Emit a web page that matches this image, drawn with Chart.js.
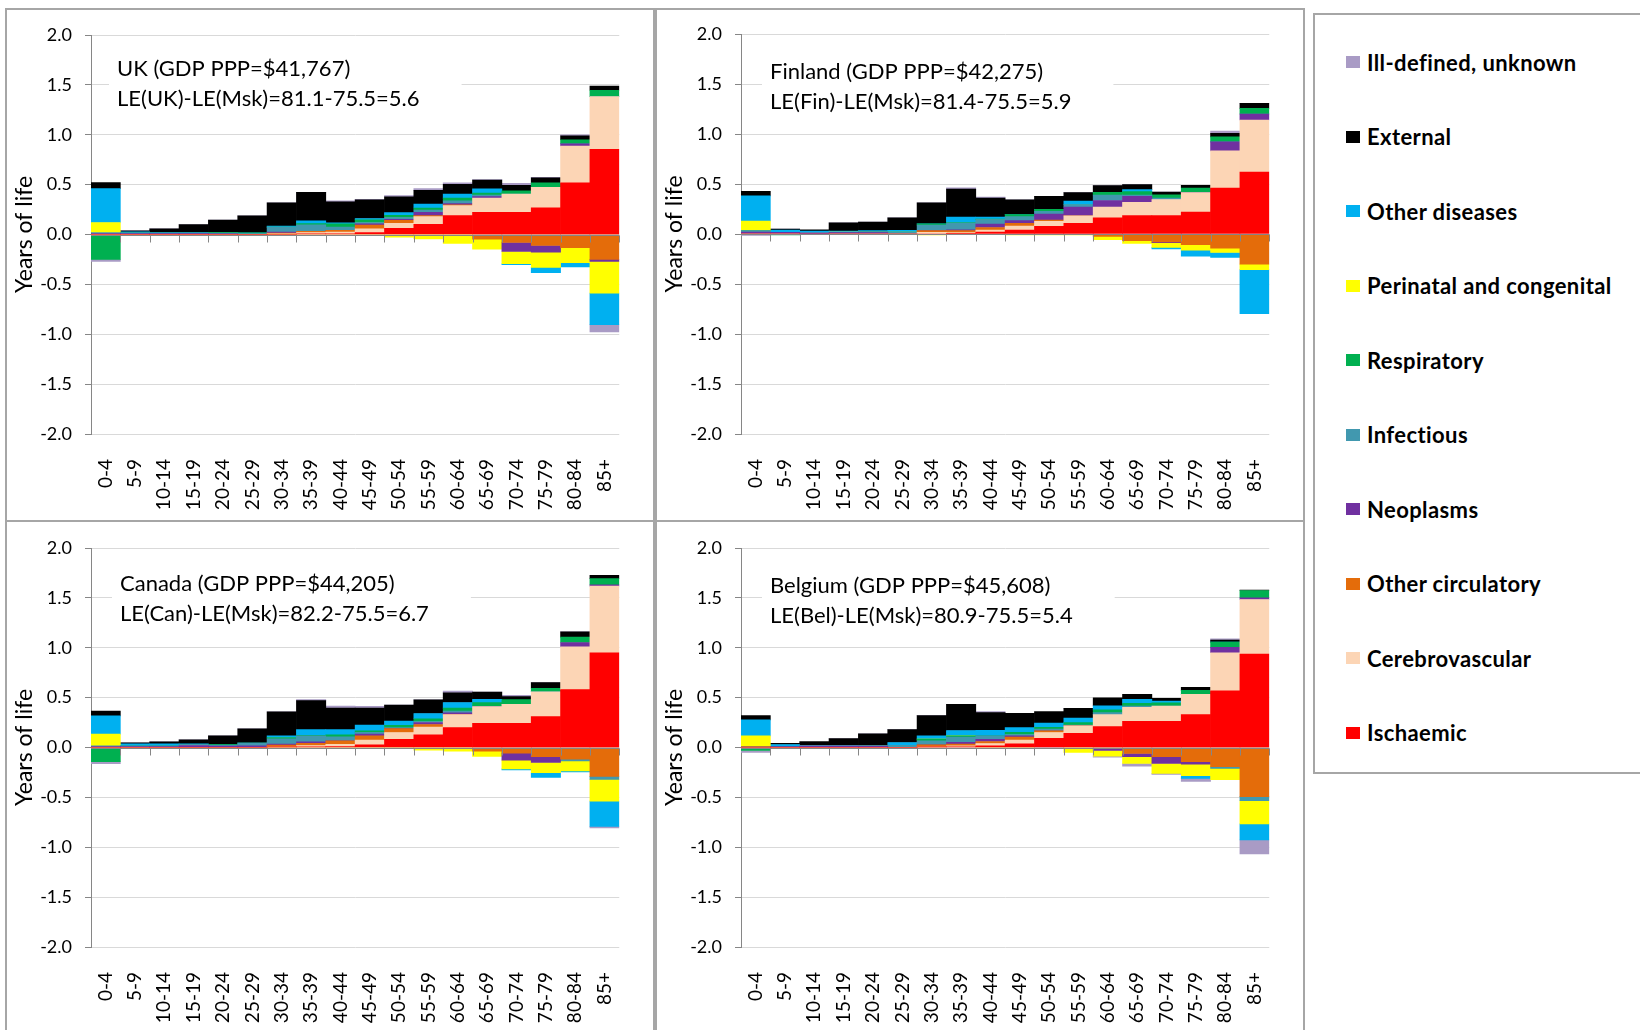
<!DOCTYPE html>
<html>
<head>
<meta charset="utf-8">
<script src="https://cdn.jsdelivr.net/npm/chart.js@4.4.1/dist/chart.umd.min.js"></script>
<style>
  body { margin: 0; width: 1640px; height: 1030px; background: #fff; position: relative; overflow: hidden; }
  .panel { position: absolute; box-sizing: border-box; border: 2px solid #a6a6a6; background: #fff; }
  .panel canvas { position: absolute; left: 0; top: 0; }
  #legend { position: absolute; left: 1313px; top: 13px; width: 340px; height: 761px; box-sizing: border-box; border: 2px solid #a6a6a6; background: #fff; }
  .item { position: absolute; left: 31px; height: 24px; display: flex; align-items: center; font: bold 22px Lato, sans-serif; letter-spacing: 0.4px; color: #000; white-space: nowrap; }
  .item span { display: inline-block; width: 14px; height: 12px; margin-right: 7px; }
</style>
</head>
<body>
<div class="panel" style="left:5px;top:8px;width:650px;height:514px"><canvas id="uk" width="646" height="510"></canvas></div>
<div class="panel" style="left:655px;top:8px;width:650px;height:514px"><canvas id="fin" width="646" height="510"></canvas></div>
<div class="panel" style="left:5px;top:520px;width:650px;height:515px"><canvas id="can" width="646" height="511"></canvas></div>
<div class="panel" style="left:655px;top:520px;width:650px;height:515px"><canvas id="bel" width="646" height="511"></canvas></div>
<div id="legend"></div>
<script>
const ages = ['0-4', '5-9', '10-14', '15-19', '20-24', '25-29', '30-34', '35-39', '40-44',
  '45-49', '50-54', '55-59', '60-64', '65-69', '70-74', '75-79', '80-84', '85+'];

// stacking order, bottom up
const causes = ['Ischaemic', 'Cerebrovascular', 'Other circulatory', 'Neoplasms', 'Infectious',
  'Respiratory', 'Perinatal and congenital', 'Other diseases', 'External', 'Ill-defined, unknown'];
const causeColors = ['#ff0000', '#fcd5b5', '#e46c0a', '#7030a0', '#4198af',
  '#00b050', '#ffff00', '#00b0f0', '#000000', '#a99bc5'];

const yTicks = [-2, -1.5, -1, -0.5, 0, 0.5, 1, 1.5, 2];

// rows follow `causes`
const ukValues = [
  [0, 0, 0, 0, 0, 0, 0, 0.007, 0.007, 0.02, 0.063, 0.103, 0.19, 0.223, 0.223, 0.267, 0.517, 0.853],
  [0, 0, 0, 0, 0, 0, 0.007, 0.013, 0.017, 0.037, 0.05, 0.077, 0.1, 0.143, 0.183, 0.207, 0.37, 0.53],
  [0, 0, 0, 0, 0, 0, 0.007, 0.013, 0.017, 0.037, 0.03, 0.01, 0.007, -0.047, -0.08, -0.11, -0.133, -0.25],
  [0.01, 0.01, 0.01, 0.01, 0.007, 0, 0.01, 0, 0, 0.013, 0.01, 0.033, 0.013, 0.013, -0.09, -0.067, 0.023, -0.02],
  [0.01, 0.007, 0.005, 0.005, 0.007, 0.01, 0.05, 0.063, 0.033, 0.013, 0.017, 0.023, 0.027, 0.017, 0, 0, 0, 0],
  [-0.25, 0, 0, 0, 0.007, 0.007, 0, 0.013, 0.033, 0.027, 0.023, 0.02, 0.027, 0.02, 0.033, 0.043, 0.04, 0.063],
  [0.1, -0.007, -0.008, -0.008, -0.008, -0.008, -0.008, -0.008, -0.008, -0.01, -0.027, -0.045, -0.09, -0.1, -0.123, -0.153, -0.15, -0.317],
  [0.34, 0.01, 0.005, 0.005, 0, 0, 0.01, 0.027, 0.01, 0.013, 0.027, 0.04, 0.04, 0.043, -0.01, -0.053, -0.043, -0.317],
  [0.06, 0.01, 0.037, 0.08, 0.123, 0.17, 0.233, 0.287, 0.21, 0.187, 0.157, 0.137, 0.1, 0.087, 0.053, 0.05, 0.04, 0.043],
  [-0.02, 0, 0, 0, 0, 0, 0, 0, 0.01, 0.005, 0.013, 0.017, 0.013, 0.005, 0.02, 0.005, 0.01, -0.073]
];

const finValues = [
  [0, 0, 0, 0, 0, 0, 0, 0.007, 0.02, 0.04, 0.077, 0.107, 0.161, 0.185, 0.185, 0.218, 0.46, 0.62],
  [0, 0, -0.005, 0, 0, 0, 0.017, 0.007, 0.02, 0.04, 0.05, 0.074, 0.107, 0.131, 0.16, 0.195, 0.372, 0.52],
  [0, 0, 0, 0, 0, 0, 0.017, 0.02, 0.025, 0.027, 0.013, 0, -0.023, -0.067, -0.08, -0.107, -0.141, -0.302],
  [0.02, 0.017, 0.01, 0.013, 0.013, 0, 0, 0.007, 0.035, 0.027, 0.06, 0.087, 0.067, 0.06, -0.007, 0, 0.09, 0.06],
  [0.013, 0, 0.005, 0.005, 0.01, 0.02, 0.054, 0.067, 0.045, 0.04, 0.027, 0.027, 0.054, 0.013, 0.013, 0, 0, 0],
  [0, -0.01, 0, -0.007, 0, 0, 0.013, 0.007, 0.005, 0.02, 0.02, 0, 0.027, 0.034, 0.034, 0.047, 0.05, 0.057],
  [0.097, 0, 0, 0, 0, 0, -0.01, -0.005, -0.005, -0.01, -0.01, -0.01, -0.034, -0.027, -0.047, -0.054, -0.044, -0.054],
  [0.252, 0.023, 0.013, 0.01, 0.01, 0.017, 0, 0.054, 0.02, 0, 0, 0.034, 0, 0.02, -0.015, -0.06, -0.05, -0.44],
  [0.044, 0.01, 0.013, 0.084, 0.087, 0.124, 0.211, 0.279, 0.19, 0.148, 0.13, 0.084, 0.067, 0.05, 0.027, 0.027, 0.034, 0.05],
  [-0.015, 0, 0, 0, 0, 0, 0, 0.013, 0.01, 0, 0, 0, 0, 0, 0, 0, 0.023, 0]
];

const canValues = [
  [0, 0, 0, 0, 0, 0, 0.007, 0.007, 0.01, 0.027, 0.083, 0.127, 0.2, 0.243, 0.243, 0.31, 0.58, 0.95],
  [0, 0, 0, 0, 0, 0, 0, 0.013, 0.023, 0.047, 0.067, 0.077, 0.13, 0.167, 0.19, 0.247, 0.43, 0.667],
  [0, 0, 0, 0, 0, 0, 0.017, 0.023, 0.033, 0.043, 0.04, 0.027, 0, -0.037, -0.057, -0.093, -0.117, -0.29],
  [0.01, 0.01, 0.01, 0.02, 0.013, 0.017, 0.01, 0.013, 0, 0.017, 0, 0.02, 0.017, 0, -0.07, -0.057, 0.043, 0.013],
  [0.007, 0.007, 0.007, 0.01, 0.01, 0.027, 0.053, 0.06, 0.04, 0.017, 0.01, 0.01, 0.017, 0, 0, 0, -0.017, -0.03],
  [-0.143, 0, 0, 0, 0.007, 0, 0.013, 0.007, 0.02, 0.017, 0.023, 0.027, 0.03, 0.04, 0.047, 0.037, 0.053, 0.063],
  [0.117, -0.007, -0.005, -0.005, -0.005, -0.005, -0.005, -0.005, -0.005, -0.005, -0.007, -0.027, -0.037, -0.053, -0.087, -0.103, -0.1, -0.217],
  [0.183, 0.02, 0.02, 0.007, 0, 0, 0.017, 0.057, 0.053, 0.057, 0.043, 0.053, 0.057, 0.033, -0.01, -0.047, -0.01, -0.253],
  [0.047, 0.01, 0.02, 0.04, 0.087, 0.143, 0.24, 0.29, 0.217, 0.17, 0.16, 0.137, 0.097, 0.073, 0.03, 0.057, 0.053, 0.033],
  [-0.02, 0, 0, 0, 0, 0, 0, 0.01, 0.02, 0.017, 0, 0, 0.017, 0, 0.013, 0, 0, -0.017]
];

const belValues = [
  [0, 0, 0, 0, 0, 0, 0.007, 0.007, 0.017, 0.037, 0.093, 0.143, 0.21, 0.263, 0.263, 0.33, 0.567, 0.937],
  [0, 0, 0, 0, 0, 0, 0, 0.01, 0.023, 0.037, 0.057, 0.073, 0.12, 0.14, 0.153, 0.203, 0.383, 0.547],
  [0.007, 0, 0, 0, 0, 0, 0.02, 0.017, 0.02, 0.03, 0.017, 0, -0.01, -0.06, -0.093, -0.143, -0.193, -0.493],
  [0, 0.01, 0.013, 0.013, 0.013, 0, 0, 0.017, 0.023, 0.013, 0, 0, -0.02, -0.033, -0.067, -0.023, 0.053, 0.017],
  [0, 0, 0.01, 0.01, 0.005, 0.023, 0.04, 0.053, 0.033, 0.013, 0.017, 0.01, 0.02, 0.013, 0, 0, -0.017, -0.04],
  [-0.03, 0, 0, 0, 0, 0, 0.017, 0.013, 0, 0.023, 0.017, 0.023, 0.027, 0.027, 0.033, 0.04, 0.053, 0.073],
  [0.11, -0.01, 0, 0, 0, 0, 0, 0, -0.01, -0.007, 0, -0.05, -0.057, -0.067, -0.1, -0.117, -0.113, -0.233],
  [0.16, 0.02, 0, 0, 0.005, 0.027, 0.033, 0.053, 0.057, 0.047, 0.043, 0.047, 0.04, 0.04, 0.017, -0.027, 0, -0.16],
  [0.043, 0.013, 0.037, 0.067, 0.113, 0.13, 0.203, 0.263, 0.177, 0.143, 0.117, 0.097, 0.08, 0.05, 0.027, 0.03, 0.02, 0.005],
  [-0.02, 0, -0.005, 0, 0, 0, 0, 0, 0.01, 0, -0.01, 0, -0.01, -0.027, -0.01, -0.03, 0.013, -0.14]
];

// white text box in the upper left plus the zero axis with its tick marks
const panelText = {
  id: 'panelText',
  beforeDatasetsDraw(chart, args, opts) {
    const ctx = chart.ctx;
    ctx.save();
    ctx.font = '22px Lato';
    const w = Math.max(ctx.measureText(opts.lines[0]).width, ctx.measureText(opts.lines[1]).width);
    ctx.fillStyle = '#fff';
    ctx.fillRect(opts.x - 8, opts.y - 22, w + 50, 76);
    ctx.fillStyle = '#000';
    ctx.textBaseline = 'middle';
    ctx.fillText(opts.lines[0], opts.x, opts.y);
    ctx.fillText(opts.lines[1], opts.x, opts.y + 30);
    ctx.restore();
  },
  afterDatasetsDraw(chart) {
    const { ctx, chartArea } = chart;
    const xs = chart.scales.x;
    const y0 = Math.round(chart.scales.y.getPixelForValue(0)) + 0.5;
    const half = (xs.getPixelForValue(1) - xs.getPixelForValue(0)) / 2;
    ctx.save();
    ctx.strokeStyle = '#868686';
    ctx.lineWidth = 1;
    ctx.beginPath();
    ctx.moveTo(chartArea.left, y0);
    ctx.lineTo(chartArea.right, y0);
    for (let i = 0; i < ages.length; i++) {
      const x = Math.round(xs.getPixelForValue(i) + half) + 0.5;
      ctx.moveTo(x, y0);
      ctx.lineTo(x, y0 + 7);
    }
    ctx.stroke();
    ctx.restore();
  }
};

function makeChart(id, values, lines, padTop, textX, textY) {
  new Chart(document.getElementById(id), {
    type: 'bar',
    data: {
      labels: ages,
      datasets: causes.map((c, i) => ({
        label: c,
        data: values[i],
        backgroundColor: causeColors[i],
        borderWidth: 0,
        barPercentage: 1,
        categoryPercentage: 1
      }))
    },
    options: {
      responsive: false,
      animation: false,
      layout: { padding: { top: padTop, right: 22, left: 0, bottom: 0 } },
      plugins: {
        legend: { display: false },
        tooltip: { enabled: false },
        panelText: { lines: lines, x: textX, y: textY }
      },
      scales: {
        x: {
          stacked: true,
          grid: { display: false, drawTicks: false },
          border: { display: false },
          ticks: { autoSkip: false, minRotation: 90, maxRotation: 90, padding: 25, color: '#000', font: { family: 'Lato', size: 19 } },
          afterFit(s) { s.height = 86; }
        },
        y: {
          stacked: true,
          min: yTicks[0],
          max: yTicks[yTicks.length - 1],
          afterBuildTicks(s) { s.ticks = yTicks.map(v => ({ value: v })); },
          ticks: { padding: 13, color: '#000', font: { family: 'Lato', size: 18 }, callback: v => v.toFixed(1) },
          grid: { color: '#d9d9d9', tickColor: '#868686', tickLength: 6 },
          border: { display: true, color: '#868686' },
          title: { display: true, text: 'Years of life', color: '#000', font: { family: 'Lato', size: 23 }, padding: { top: 4, bottom: 0 } },
          afterFit(s) { s.width = 84; }
        }
      }
    },
    plugins: [panelText]
  });
}

makeChart('uk', ukValues, ['UK (GDP PPP=$41,767)', 'LE(UK)-LE(Msk)=81.1-75.5=5.6'], 25, 110, 59);
makeChart('fin', finValues, ['Finland (GDP PPP=$42,275)', 'LE(Fin)-LE(Msk)=81.4-75.5=5.9'], 24, 113, 62);
makeChart('can', canValues, ['Canada (GDP PPP=$44,205)', 'LE(Can)-LE(Msk)=82.2-75.5=6.7'], 26, 113, 62);
makeChart('bel', belValues, ['Belgium (GDP PPP=$45,608)', 'LE(Bel)-LE(Msk)=80.9-75.5=5.4'], 26, 113, 64);

// legend, top entry is the last series
const legend = document.getElementById('legend');
for (let k = 0; k < causes.length; k++) {
  const i = causes.length - 1 - k;
  const el = document.createElement('div');
  el.className = 'item';
  el.style.top = (47 - 12 + k * 74.5) + 'px';
  el.innerHTML = '<span style="background:' + causeColors[i] + '"></span>' + causes[i];
  legend.appendChild(el);
}
</script>
</body>
</html>
